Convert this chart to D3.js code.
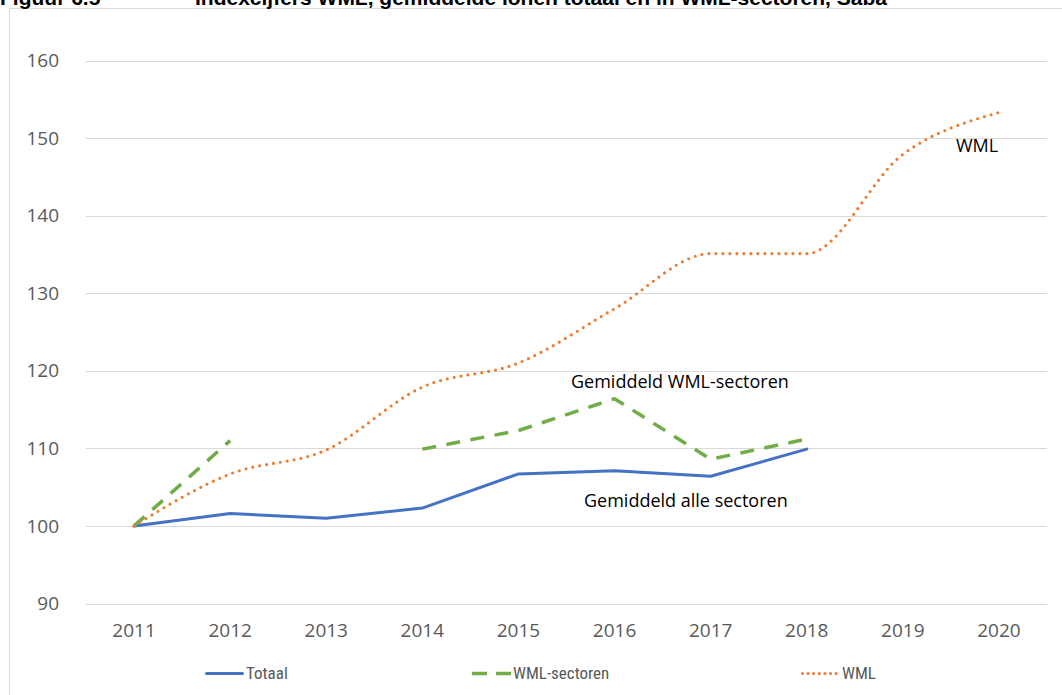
<!DOCTYPE html>
<html>
<head>
<meta charset="utf-8">
<script src="https://cdn.jsdelivr.net/npm/d3@7"></script>
<style>
  html, body { margin: 0; padding: 0; background: #fff; }
  svg { display: block; }
</style>
</head>
<body>
<svg id="chart" width="1062" height="695"></svg>
<script>
let WIDTH = 1062, HEIGHT = 695;
let M = { top: 60.5, right: 15, bottom: 91.5, left: 86 };

// data
let years = ["2011", "2012", "2013", "2014", "2015", "2016", "2017", "2018", "2019", "2020"];
let totaal = [100, 101.6, 101.0, 102.3, 106.7, 107.1, 106.4, 109.9, null, null];
let wmlSectoren = [100, 111.0, null, 109.9, 112.3, 116.4, 108.6, 111.2, null, null];
let wml = [100, 106.7, 109.8, 117.9, 121.0, 128.0, 135.1, 135.1, 147.9, 153.3];
let yTicks = [90, 100, 110, 120, 130, 140, 150, 160];

let series = [
    { name: "Totaal", values: totaal, color: "#4472C4", width: 3, dash: null, legendDash: null, cap: "round", smooth: false },
    { name: "WML-sectoren", values: wmlSectoren, color: "#70AD47", width: 3.5, dash: "14,10.5", legendDash: "15,9", cap: "butt", smooth: false },
    { name: "WML", values: wml, color: "#ED7D31", width: 3.2, dash: "0,7", legendDash: "0,5.6", cap: "round", smooth: true }
];

let svg = d3.select("#chart");

// chart area border + clipped title above it
svg.append("rect")
    .attr("x", 9.5).attr("y", 8.5)
    .attr("width", WIDTH + 10).attr("height", HEIGHT + 10)
    .attr("fill", "none")
    .attr("stroke", "#d9d9d9");

let titleG = svg.append("g")
    .attr("font-family", "'Liberation Sans', Arial, sans-serif")
    .attr("font-weight", "bold")
    .attr("font-size", "21px")
    .attr("fill", "#000");
titleG.append("text").attr("x", 0).attr("y", 5).text("Figuur 6.5");
titleG.append("text").attr("x", 195).attr("y", 5)
    .text("Indexcijfers WML, gemiddelde lonen totaal en in WML-sectoren, Saba");

let x = d3.scaleBand()
    .domain(years)
    .range([M.left, 1047]);

let y = d3.scaleLinear()
    .domain([90, 160])
    .range([603.5, M.top]);

let cx = d => x(d) + x.bandwidth() / 2;

// gridlines
svg.append("g")
    .attr("class", "grid")
    .selectAll("line")
    .data(yTicks)
    .join("line")
    .attr("x1", M.left).attr("x2", 1047)
    .attr("y1", d => Math.round(y(d)) + 0.5)
    .attr("y2", d => Math.round(y(d)) + 0.5)
    .attr("stroke", "#d9d9d9")
    .attr("stroke-width", 1);

// y axis labels
let yAxis = svg.append("g")
    .attr("transform", `translate(${M.left}, 0)`)
    .call(d3.axisLeft(y).tickValues(yTicks).tickSize(0).tickPadding(27));
yAxis.select(".domain").remove();
yAxis.selectAll("text")
    .attr("font-family", "'Open Sans', sans-serif")
    .attr("font-size", "19px")
    .attr("fill", "#595959");

// x axis labels
let xAxis = svg.append("g")
    .attr("transform", `translate(0, 603.5)`)
    .call(d3.axisBottom(x).tickSize(0).tickPadding(20));
xAxis.select(".domain").remove();
xAxis.selectAll("text")
    .attr("font-family", "'Open Sans', sans-serif")
    .attr("font-size", "19px")
    .attr("fill", "#595959");

// lines
series.forEach(function(s) {
    let pts = years.map((yr, i) => ({ yr: yr, v: s.values[i] }));
    let line = d3.line()
        .defined(d => d.v != null)
        .x(d => cx(d.yr))
        .y(d => y(d.v));
    if (s.smooth) line.curve(d3.curveMonotoneX);

    svg.append("path")
        .datum(pts)
        .attr("d", line)
        .attr("fill", "none")
        .attr("stroke", s.color)
        .attr("stroke-width", s.width)
        .attr("stroke-linejoin", "round")
        .attr("stroke-linecap", s.cap)
        .attr("stroke-dasharray", s.dash);
});

// in-chart labels
let notes = [
    { text: "Gemiddeld WML-sectoren", x: 571, y: 388 },
    { text: "Gemiddeld alle sectoren", x: 584, y: 507 },
    { text: "WML", x: 956, y: 152 }
];
svg.append("g")
    .selectAll("text")
    .data(notes)
    .join("text")
    .attr("x", d => d.x)
    .attr("y", d => d.y)
    .attr("font-family", "'Open Sans', sans-serif")
    .attr("font-size", "18px")
    .attr("fill", "#000")
    .text(d => d.text);

// legend
let legendPos = [205, 472, 801];
let legend = svg.append("g").attr("class", "legend");
series.forEach(function(s, i) {
    let lx = legendPos[i];
    let ly = 673.5;
    let inset = s.cap === "round" ? 1.5 : 0;
    legend.append("line")
        .attr("x1", lx + inset)
        .attr("x2", lx + 39 - inset)
        .attr("y1", ly).attr("y2", ly)
        .attr("stroke", s.color)
        .attr("stroke-width", s.width)
        .attr("stroke-linecap", s.cap)
        .attr("stroke-dasharray", s.legendDash);
    legend.append("text")
        .attr("x", lx + 41)
        .attr("y", ly)
        .attr("dy", "0.35em")
        .attr("font-family", "'Liberation Sans Narrow', 'Roboto Condensed', 'Liberation Sans', sans-serif")
        .attr("font-size", "17px")
        .attr("fill", "#595959")
        .text(s.name);
});
</script>
</body>
</html>
